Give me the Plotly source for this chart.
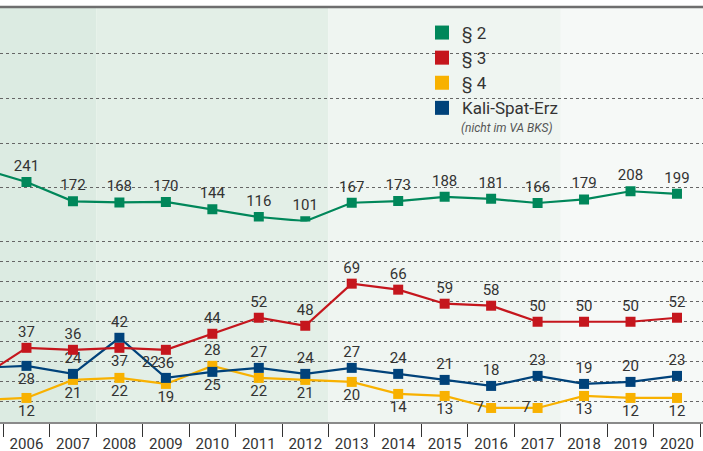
import plotly.graph_objects as go

years = [str(y) for y in range(2005, 2021)]
par2 = [290, 241, 172, 168, 170, 144, 116, 101, 167, 173, 188, 181, 166, 179, 208, 199]
par3 = [22, 37, 36, 37, 36, 44, 52, 48, 69, 66, 59, 58, 50, 50, 50, 52]
par4 = [11, 12, 21, 22, 19, 28, 22, 21, 20, 14, 13, 7, 7, 13, 12, 12]
kse = [27, 28, 24, 42, 22, 25, 27, 24, 27, 24, 21, 18, 23, 19, 20, 23]

pos2 = ["top center"] * 16
pos3 = ["top center"] * 16
pos3[3] = "bottom center"; pos3[4] = "bottom center"
pos4 = ["bottom center"] * 16
pos4[5] = "top center"; pos4[11] = "middle left"; pos4[12] = "middle left"
posk = ["top center"] * 16
posk[1] = "bottom center"; posk[4] = "top left"; posk[5] = "bottom center"

GREEN = "#00875A"
RED = "#C5161D"
YELLOW = "#F8B100"
BLUE = "#00427A"
TXT = "#333333"
FONT = "Roboto, Liberation Sans, sans-serif"

fig = go.Figure()

def add(vals, color, pos, yaxis):
    # the 2005 point lies outside the visible range; its label is not shown
    labels = [""] + [str(v) for v in vals[1:]]
    fig.add_trace(go.Scatter(
        x=years, y=vals, mode="lines+markers+text",
        line=dict(color=color, width=2.2),
        marker=dict(symbol="square", size=10, color=color),
        text=labels, textposition=pos,
        textfont=dict(family=FONT, size=15, color=TXT),
        showlegend=False, yaxis=yaxis, cliponaxis=True, hoverinfo="skip"))

add(par4, YELLOW, pos4, "y")
add(kse, BLUE, posk, "y")
add(par3, RED, pos3, "y")
add(par2, GREEN, pos2, "y2")

# invisible helper trace so that the label axis (x2) is drawn
fig.add_trace(go.Scatter(x=list(range(len(years))), y=[None] * len(years),
                         xaxis="x2", yaxis="y", mode="markers",
                         showlegend=False, hoverinfo="skip"))

for name, color in [("§ 2", GREEN), ("§ 3", RED), ("§ 4", YELLOW), ("Kali-Spat-Erz", BLUE)]:
    fig.add_trace(go.Scatter(
        x=[None], y=[None], mode="markers", name=name,
        marker=dict(symbol="square", size=14, color=color), showlegend=True))

bands = [(-1, 2.5, "#dcebe2"), (2.5, 7.5, "#e3efe7"), (7.5, 12.5, "#eff5f1"), (12.5, 17, "#f6f9f7")]
for x0, x1, c in bands:
    fig.add_shape(type="rect", xref="x", yref="paper", x0=x0, x1=x1, y0=0, y1=1,
                  fillcolor=c, line=dict(width=0), layer="below")
fig.add_shape(type="line", xref="paper", yref="paper", x0=0, x1=1, y0=1, y1=1,
              line=dict(color="#6e6e6e", width=2.5), layer="above")

split = 200.5 / 415
xr = [0.43, 15.56]
fig.update_layout(
    width=703, height=451,
    margin=dict(l=0, r=0, t=7, b=29),
    paper_bgcolor="white", plot_bgcolor="white",
    font=dict(family=FONT, color=TXT),
    xaxis=dict(type="category", range=xr, tickson="boundaries",
               ticks="outside", ticklen=13, tickcolor="#333333", tickwidth=1,
               showticklabels=False, automargin=False,
               showline=True, linecolor="#8a8a8a", linewidth=1.5,
               showgrid=False, anchor="y"),
    xaxis2=dict(type="linear", range=xr, overlaying="x", anchor="y", side="bottom",
                tickvals=list(range(len(years))), ticktext=years,
                ticks="outside", ticklen=8, tickcolor="rgba(0,0,0,0)",
                showline=False, showgrid=False, zeroline=False, automargin=False,
                tickfont=dict(family=FONT, size=15, color=TXT)),
    yaxis=dict(domain=[0, split], range=[0, 100],
               tickvals=list(range(10, 101, 10)), showticklabels=False,
               showgrid=True, gridcolor="#666666", griddash="dot", gridwidth=1,
               zeroline=False, showline=False, ticks="", automargin=False),
    yaxis2=dict(domain=[split, 1], range=[100, 100 + 214.5 / 0.28],
                tickvals=[220, 380, 540, 700], showticklabels=False,
                showgrid=True, gridcolor="#666666", griddash="dot", gridwidth=1,
                zeroline=False, showline=False, ticks="", anchor="x", automargin=False),
    legend=dict(x=422 / 703, y=1 - 8 / 415, xanchor="left", yanchor="top",
                bgcolor="rgba(0,0,0,0)", font=dict(family=FONT, size=17, color=TXT),
                itemsizing="trace", tracegroupgap=0),
    annotations=[dict(text="<i>(nicht im VA BKS)</i>", xref="paper", yref="paper",
                      x=459 / 703, y=1 - (128 - 7) / 415, xanchor="left", yanchor="middle",
                      showarrow=False, font=dict(family=FONT, size=12, color="#555555"))],
)

fig.write_html("out.html", config={"displayModeBar": False},
               post_script="document.body.style.margin='0';document.body.style.overflow='hidden';")
